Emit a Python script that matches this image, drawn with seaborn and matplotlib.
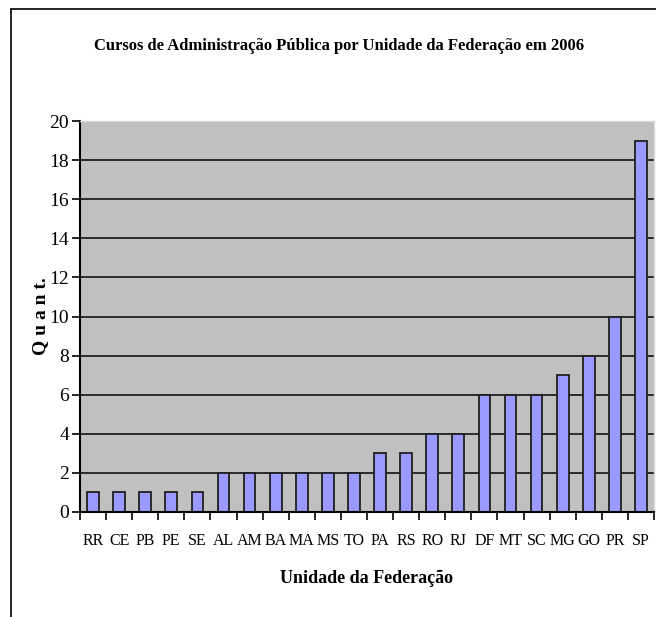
import matplotlib
matplotlib.use("Agg")
import matplotlib.pyplot as plt
import matplotlib.lines as mlines
import seaborn as sns
import numpy as np
import pandas as pd

# Dados
ESTADOS = ["RR", "CE", "PB", "PE", "SE", "AL", "AM", "BA", "MA", "MS", "TO",
           "PA", "RS", "RO", "RJ", "DF", "MT", "SC", "MG", "GO", "PR", "SP"]
QUANT = [1, 1, 1, 1, 1, 2, 2, 2, 2, 2, 2, 3, 3, 4, 4, 6, 6, 6, 7, 8, 10, 19]
Y_TICKS = list(range(0, 21, 2))

TITULO = "Cursos de Administração Pública por Unidade da Federação em 2006"
X_LABEL = "Unidade da Federação"
Y_LABEL = "Q u a n t."

df = pd.DataFrame({"estado": ESTADOS, "quant": QUANT})

sns.set_style("white")
plt.rcParams["font.family"] = ["Liberation Serif", "DejaVu Serif"]
plt.rcParams["text.color"] = "black"
plt.rcParams["axes.labelcolor"] = "black"
plt.rcParams["xtick.color"] = "black"
plt.rcParams["ytick.color"] = "black"

W, H = 656, 617
fig = plt.figure(figsize=(W / 100, H / 100), dpi=100)
ax = fig.add_axes([80 / W, (H - 512) / H, (654 - 80) / W, (512 - 121) / H])

sns.barplot(data=df, x="estado", y="quant", ax=ax, color="#9999FF",
            saturation=1, width=0.45, edgecolor="#202020", linewidth=1.3)

ax.set_facecolor("#C0C0C0")
ax.set_xlim(-0.5, len(ESTADOS) - 0.5)
ax.set_ylim(0, 20)
ax.set_yticks(Y_TICKS)
ax.set_axisbelow(True)
ax.yaxis.grid(True, color="#111111", linewidth=1.2)
ax.xaxis.grid(False)
# sem linha de grade no topo (20)
ax.get_ygridlines()[-1].set_visible(False)

# ticks entre categorias
ax.set_xticks(np.arange(-0.5, len(ESTADOS)), minor=True)
ax.tick_params(axis="x", which="major", length=0, labelsize=11.5, pad=15)
ax.tick_params(axis="x", which="minor", length=6, width=1.2, color="black",
               bottom=True)
ax.tick_params(axis="y", length=6, width=1.2, color="black", labelsize=14,
               left=True, pad=2)

for s in ["left", "bottom"]:
    ax.spines[s].set_color("black")
    ax.spines[s].set_linewidth(1.5)
for s in ["top", "right"]:
    ax.spines[s].set_color("#D8D8D8")
    ax.spines[s].set_linewidth(1)

ax.set_xlabel(X_LABEL, fontsize=13, fontweight="bold", labelpad=15)
ax.set_ylabel(Y_LABEL, fontsize=14, fontweight="bold", labelpad=0)

fig.text(0.5 * (110 + 568) / W, 1 - 46 / H, TITULO, ha="center", va="center",
         fontsize=12, fontweight="bold")

# moldura do gráfico
fig.add_artist(mlines.Line2D([11 / W, 11 / W], [0, 1 - 9 / H],
                             transform=fig.transFigure, color="black", lw=1.2))
fig.add_artist(mlines.Line2D([11 / W, 1], [1 - 9 / H, 1 - 9 / H],
                             transform=fig.transFigure, color="black", lw=1.2))

fig.savefig("out.png", dpi=100)
